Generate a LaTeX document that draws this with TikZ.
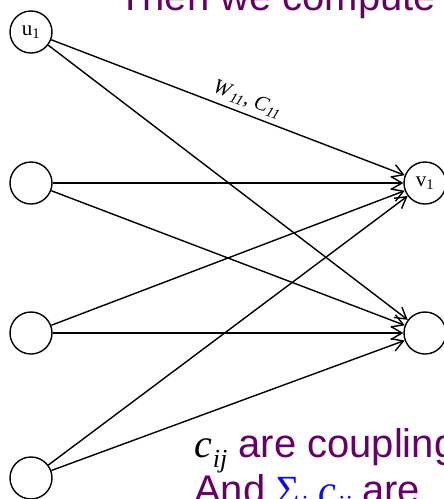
\documentclass[tikz,border=0pt]{standalone}
\usepackage{fontspec}
\setmainfont{Liberation Serif}
\newfontfamily\slidefont{Liberation Sans}
\usepackage{tikz}
\usetikzlibrary{arrows.meta}
\definecolor{slidepurple}{RGB}{102,0,102}
\definecolor{sumblue}{RGB}{10,10,245}

\tikzset{
  nrn/.style={draw, circle, minimum size=42pt, inner sep=0pt, line width=1.4pt,
    font=\fontsize{21}{21}\selectfont},
  wire/.style={line width=1.4pt, -{Straight Barb[length=11pt, width=13pt, line width=1.4pt]}},
  slidetext/.style={anchor=base west, inner sep=0pt, text=slidepurple,
    font=\slidefont\fontsize{40}{40}\selectfont}
}
\newcommand{\cij}{{\rmfamily\itshape c\kern1pt\raisebox{-0.25em}{\fontsize{26}{26}\selectfont ij}}}

\begin{document}
\begin{tikzpicture}[x=1pt, y=-1pt]
\useasboundingbox (0,0) rectangle (444,499);
\clip (0,0) rectangle (444,499);

% input layer
\node[nrn] (u1) at (31,32) {u\textsubscript{1}};
\node[nrn] (u2) at (31,183) {};
\node[nrn] (u3) at (31,333) {};
\node[nrn] (u4) at (31,478) {};

% output layer
\node[nrn] (v1) at (425,183) {v\textsubscript{1}};
\node[nrn] (v2) at (425,333) {};

% weights
\draw[wire] (u1) -- (v1) node[sloped, above=2pt, pos=0.54,
  font=\fontsize{21}{21}\selectfont] {\textit{W}\textsubscript{\textit{11}}, \textit{C}\textsubscript{\textit{11}}};
\draw[wire] (u1) -- (v2);
\foreach \i in {2,3,4} {
  \draw[wire] (u\i) -- (v1);
  \draw[wire] (u\i) -- (v2);
}

% slide text
\node[slidetext] (title) at (118,10) {Then we compute};
\node[slidetext] (cline) at (194,457) {\textcolor{black}{\cij} are coupling};
\node[slidetext] (sline) at (194,503) {And \textcolor{sumblue}{{\rmfamily Σ\raisebox{-0.25em}{\fontsize{26}{26}\selectfont\itshape j}} \cij} are};
\end{tikzpicture}
\end{document}
